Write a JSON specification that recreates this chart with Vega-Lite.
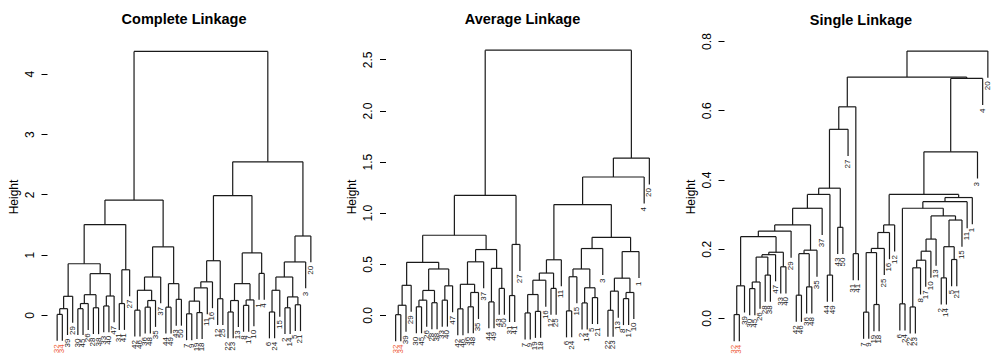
{
"$schema": "https://vega.github.io/schema/vega-lite/v6.json",
"background": "white",
"padding": {"left": 7, "top": 11, "right": 5, "bottom": 0},
"spacing": 64.5,
"bounds": "flush",
"config": {
  "view": {"stroke": null},
  "font": "Liberation Sans",
  "title": {"fontSize": 14.5, "fontWeight": "bold", "anchor": "middle", "color": "#000", "baseline": "alphabetic", "offset": 13, "frame": "group"},
  "axis": {"grid": false, "domain": false, "tickSize": 6, "tickColor": "#000", "tickWidth": 1, "labelFontSize": 12, "labelColor": "#000", "labelAngle": 270, "labelAlign": "center", "labelBaseline": "alphabetic", "labelPadding": 8, "titleFontSize": 12, "titleFontWeight": "normal", "titleColor": "#000", "titlePadding": 3, "labelFlush": false, "labelOverlap": false}
},
"datasets": {
  "cM": [
    {"xl":0,"xr":1,"h":0.01,"hl":-0.427,"hr":-0.427},
    {"xl":0.5,"xr":2,"h":0.105,"hl":0.01,"hr":-0.332},
    {"xl":1.25,"xr":3,"h":0.31,"hl":0.105,"hr":-0.127},
    {"xl":4,"xr":5,"h":0.105,"hl":-0.332,"hr":-0.332},
    {"xl":4.5,"xr":6,"h":0.19,"hl":0.105,"hr":-0.247},
    {"xl":7,"xr":8,"h":0.12,"hl":-0.317,"hr":-0.317},
    {"xl":5.25,"xr":7.5,"h":0.337,"hl":0.19,"hr":0.12},
    {"xl":9,"xr":10,"h":0.15,"hl":-0.287,"hr":-0.287},
    {"xl":9.5,"xr":11,"h":0.315,"hl":0.15,"hr":-0.122},
    {"xl":6.375,"xr":10.25,"h":0.686,"hl":0.337,"hr":0.315},
    {"xl":2.125,"xr":8.3125,"h":0.85,"hl":0.31,"hr":0.686},
    {"xl":12,"xr":13,"h":0.19,"hl":-0.247,"hr":-0.247},
    {"xl":12.5,"xr":14,"h":0.75,"hl":0.19,"hr":0.313},
    {"xl":5.21875,"xr":13.25,"h":1.5,"hl":0.85,"hr":0.75},
    {"xl":15,"xr":16,"h":0.08,"hl":-0.357,"hr":-0.357},
    {"xl":17,"xr":18,"h":0.13,"hl":-0.307,"hr":-0.307},
    {"xl":17.5,"xr":19,"h":0.24,"hl":0.13,"hr":-0.197},
    {"xl":15.5,"xr":18.25,"h":0.41,"hl":0.08,"hr":0.24},
    {"xl":16.875,"xr":20,"h":0.63,"hl":0.41,"hr":0.193},
    {"xl":21,"xr":22,"h":0.13,"hl":-0.307,"hr":-0.307},
    {"xl":23,"xr":24,"h":0.26,"hl":-0.177,"hr":-0.177},
    {"xl":21.5,"xr":23.5,"h":0.52,"hl":0.13,"hr":0.26},
    {"xl":18.4375,"xr":22.5,"h":1.13,"hl":0.63,"hr":0.52},
    {"xl":9.234375,"xr":20.46875,"h":1.905,"hl":1.5,"hr":1.13},
    {"xl":25,"xr":26,"h":0.02,"hl":-0.417,"hr":-0.417},
    {"xl":27,"xr":28,"h":0.04,"hl":-0.397,"hr":-0.397},
    {"xl":25.5,"xr":27.5,"h":0.23,"hl":0.02,"hr":0.04},
    {"xl":26.5,"xr":29,"h":0.45,"hl":0.23,"hr":0.013},
    {"xl":27.75,"xr":30,"h":0.55,"hl":0.45,"hr":0.113},
    {"xl":31,"xr":32,"h":0.27,"hl":-0.167,"hr":-0.167},
    {"xl":28.875,"xr":31.5,"h":0.9,"hl":0.55,"hr":0.27},
    {"xl":33,"xr":34,"h":0.05,"hl":-0.387,"hr":-0.387},
    {"xl":33.5,"xr":35,"h":0.24,"hl":0.05,"hr":-0.197},
    {"xl":36,"xr":37,"h":0.16,"hl":-0.277,"hr":-0.277},
    {"xl":36.5,"xr":38,"h":0.25,"hl":0.16,"hr":-0.187},
    {"xl":34.25,"xr":37.25,"h":0.52,"hl":0.24,"hr":0.25},
    {"xl":39,"xr":40,"h":0.69,"hl":0.253,"hr":0.253},
    {"xl":35.75,"xr":39.5,"h":1.03,"hl":0.52,"hr":0.69},
    {"xl":30.1875,"xr":37.625,"h":1.98,"hl":0.9,"hr":1.03},
    {"xl":41,"xr":42,"h":0.05,"hl":-0.387,"hr":-0.387},
    {"xl":41.5,"xr":43,"h":0.41,"hl":0.05,"hr":-0.027},
    {"xl":44,"xr":45,"h":0.12,"hl":-0.317,"hr":-0.317},
    {"xl":46,"xr":47,"h":0.17,"hl":-0.267,"hr":-0.267},
    {"xl":44.5,"xr":46.5,"h":0.3,"hl":0.12,"hr":0.17},
    {"xl":42.25,"xr":45.5,"h":0.63,"hl":0.41,"hr":0.3},
    {"xl":43.875,"xr":48,"h":0.88,"hl":0.63,"hr":0.443},
    {"xl":45.9375,"xr":49,"h":1.31,"hl":0.88,"hr":0.873},
    {"xl":33.90625,"xr":47.46875,"h":2.54,"hl":1.98,"hr":1.31},
    {"xl":14.8515625,"xr":40.6875,"h":4.37,"hl":1.905,"hr":2.54}
  ],
  "cL": [
    {"i":0,"t":"32","b":-0.427},{"i":1,"t":"34","b":-0.427},{"i":2,"t":"39","b":-0.332},{"i":3,"t":"29","b":-0.127},{"i":4,"t":"30","b":-0.332},
    {"i":5,"t":"45","b":-0.332},{"i":6,"t":"26","b":-0.247},{"i":7,"t":"28","b":-0.317},{"i":8,"t":"38","b":-0.317},{"i":9,"t":"33","b":-0.287},
    {"i":10,"t":"40","b":-0.287},{"i":11,"t":"47","b":-0.122},{"i":12,"t":"31","b":-0.247},{"i":13,"t":"41","b":-0.247},{"i":14,"t":"27","b":0.313},
    {"i":15,"t":"42","b":-0.357},{"i":16,"t":"46","b":-0.357},{"i":17,"t":"36","b":-0.307},{"i":18,"t":"48","b":-0.307},{"i":19,"t":"35","b":-0.197},
    {"i":20,"t":"37","b":0.193},{"i":21,"t":"44","b":-0.307},{"i":22,"t":"49","b":-0.307},{"i":23,"t":"43","b":-0.177},{"i":24,"t":"50","b":-0.177},
    {"i":25,"t":"7","b":-0.417},{"i":26,"t":"9","b":-0.417},{"i":27,"t":"19","b":-0.397},{"i":28,"t":"18","b":-0.397},{"i":29,"t":"11","b":0.013},
    {"i":30,"t":"16","b":0.113},{"i":31,"t":"12","b":-0.167},{"i":32,"t":"25","b":-0.167},{"i":33,"t":"22","b":-0.387},{"i":34,"t":"23","b":-0.387},
    {"i":35,"t":"13","b":-0.197},{"i":36,"t":"8","b":-0.277},{"i":37,"t":"17","b":-0.277},{"i":38,"t":"10","b":-0.187},{"i":39,"t":"1","b":0.253},
    {"i":40,"t":"4","b":0.253},{"i":41,"t":"6","b":-0.387},{"i":42,"t":"24","b":-0.387},{"i":43,"t":"15","b":-0.027},{"i":44,"t":"2","b":-0.317},
    {"i":45,"t":"14","b":-0.317},{"i":46,"t":"5","b":-0.267},{"i":47,"t":"21","b":-0.267},{"i":48,"t":"3","b":0.443},{"i":49,"t":"20","b":0.873}
  ],
  "aM": [
    {"xl":0,"xr":1,"h":0.003,"hl":-0.256,"hr":-0.256},
    {"xl":0.5,"xr":2,"h":0.095,"hl":0.003,"hr":-0.164},
    {"xl":1.25,"xr":3,"h":0.29,"hl":0.095,"hr":0.031},
    {"xl":4,"xr":5,"h":0.08,"hl":-0.179,"hr":-0.179},
    {"xl":4.5,"xr":6,"h":0.145,"hl":0.08,"hr":-0.114},
    {"xl":7,"xr":8,"h":0.12,"hl":-0.139,"hr":-0.139},
    {"xl":5.25,"xr":7.5,"h":0.24,"hl":0.145,"hr":0.12},
    {"xl":9,"xr":10,"h":0.145,"hl":-0.114,"hr":-0.114},
    {"xl":9.5,"xr":11,"h":0.285,"hl":0.145,"hr":0.026},
    {"xl":6.375,"xr":10.25,"h":0.45,"hl":0.24,"hr":0.285},
    {"xl":2.125,"xr":8.3125,"h":0.515,"hl":0.29,"hr":0.45},
    {"xl":12,"xr":13,"h":0.06,"hl":-0.199,"hr":-0.199},
    {"xl":14,"xr":15,"h":0.08,"hl":-0.179,"hr":-0.179},
    {"xl":14.5,"xr":16,"h":0.22,"hl":0.08,"hr":-0.039},
    {"xl":12.5,"xr":15.25,"h":0.3,"hl":0.06,"hr":0.22},
    {"xl":13.875,"xr":17,"h":0.52,"hl":0.3,"hr":0.261},
    {"xl":18,"xr":19,"h":0.128,"hl":-0.131,"hr":-0.131},
    {"xl":20,"xr":21,"h":0.26,"hl":0.001,"hr":0.001},
    {"xl":18.5,"xr":20.5,"h":0.456,"hl":0.128,"hr":0.26},
    {"xl":15.4375,"xr":19.5,"h":0.64,"hl":0.52,"hr":0.456},
    {"xl":5.21875,"xr":17.46875,"h":0.78,"hl":0.515,"hr":0.64},
    {"xl":22,"xr":23,"h":0.19,"hl":-0.069,"hr":-0.069},
    {"xl":22.5,"xr":24,"h":0.69,"hl":0.19,"hr":0.431},
    {"xl":11.34375,"xr":23.25,"h":1.17,"hl":0.78,"hr":0.69},
    {"xl":25,"xr":26,"h":0.02,"hl":-0.239,"hr":-0.239},
    {"xl":27,"xr":28,"h":0.035,"hl":-0.224,"hr":-0.224},
    {"xl":25.5,"xr":27.5,"h":0.2,"hl":0.02,"hr":0.035},
    {"xl":26.5,"xr":29,"h":0.34,"hl":0.2,"hr":0.081},
    {"xl":30,"xr":31,"h":0.26,"hl":0.001,"hr":0.001},
    {"xl":27.75,"xr":30.5,"h":0.41,"hl":0.34,"hr":0.26},
    {"xl":29.125,"xr":32,"h":0.54,"hl":0.41,"hr":0.281},
    {"xl":33,"xr":34,"h":0.04,"hl":-0.219,"hr":-0.219},
    {"xl":33.5,"xr":35,"h":0.374,"hl":0.04,"hr":0.115},
    {"xl":36,"xr":37,"h":0.118,"hl":-0.141,"hr":-0.141},
    {"xl":38,"xr":39,"h":0.17,"hl":-0.089,"hr":-0.089},
    {"xl":36.5,"xr":38.5,"h":0.266,"hl":0.118,"hr":0.17},
    {"xl":34.25,"xr":37.5,"h":0.45,"hl":0.374,"hr":0.266},
    {"xl":35.875,"xr":40,"h":0.65,"hl":0.45,"hr":0.391},
    {"xl":41,"xr":42,"h":0.046,"hl":-0.213,"hr":-0.213},
    {"xl":41.5,"xr":43,"h":0.233,"hl":0.046,"hr":-0.026},
    {"xl":44,"xr":45,"h":0.16,"hl":-0.099,"hr":-0.099},
    {"xl":44.5,"xr":46,"h":0.22,"hl":0.16,"hr":-0.039},
    {"xl":42.25,"xr":45.25,"h":0.36,"hl":0.233,"hr":0.22},
    {"xl":43.75,"xr":47,"h":0.62,"hl":0.36,"hr":0.361},
    {"xl":37.9375,"xr":45.375,"h":0.76,"hl":0.65,"hr":0.62},
    {"xl":30.5625,"xr":41.65625,"h":1.08,"hl":0.54,"hr":0.76},
    {"xl":36.109375,"xr":48,"h":1.35,"hl":1.08,"hr":1.091},
    {"xl":42.0546875,"xr":49,"h":1.535,"hl":1.35,"hr":1.276},
    {"xl":17.296875,"xr":45.52734375,"h":2.59,"hl":1.17,"hr":1.535}
  ],
  "aL": [
    {"i":0,"t":"32","b":-0.256},{"i":1,"t":"34","b":-0.256},{"i":2,"t":"39","b":-0.164},{"i":3,"t":"29","b":0.031},{"i":4,"t":"30","b":-0.179},
    {"i":5,"t":"45","b":-0.179},{"i":6,"t":"26","b":-0.114},{"i":7,"t":"28","b":-0.139},{"i":8,"t":"38","b":-0.139},{"i":9,"t":"33","b":-0.114},
    {"i":10,"t":"40","b":-0.114},{"i":11,"t":"47","b":0.026},{"i":12,"t":"42","b":-0.199},{"i":13,"t":"46","b":-0.199},{"i":14,"t":"36","b":-0.179},
    {"i":15,"t":"48","b":-0.179},{"i":16,"t":"35","b":-0.039},{"i":17,"t":"37","b":0.261},{"i":18,"t":"44","b":-0.131},{"i":19,"t":"49","b":-0.131},
    {"i":20,"t":"43","b":0.001},{"i":21,"t":"50","b":0.001},{"i":22,"t":"31","b":-0.069},{"i":23,"t":"41","b":-0.069},{"i":24,"t":"27","b":0.431},
    {"i":25,"t":"7","b":-0.239},{"i":26,"t":"9","b":-0.239},{"i":27,"t":"19","b":-0.224},{"i":28,"t":"18","b":-0.224},{"i":29,"t":"16","b":0.081},
    {"i":30,"t":"12","b":0.001},{"i":31,"t":"25","b":0.001},{"i":32,"t":"11","b":0.281},{"i":33,"t":"6","b":-0.219},{"i":34,"t":"24","b":-0.219},
    {"i":35,"t":"15","b":0.115},{"i":36,"t":"2","b":-0.141},{"i":37,"t":"14","b":-0.141},{"i":38,"t":"5","b":-0.089},{"i":39,"t":"21","b":-0.089},
    {"i":40,"t":"3","b":0.391},{"i":41,"t":"22","b":-0.213},{"i":42,"t":"23","b":-0.213},{"i":43,"t":"13","b":-0.026},{"i":44,"t":"8","b":-0.099},
    {"i":45,"t":"17","b":-0.099},{"i":46,"t":"10","b":-0.039},{"i":47,"t":"1","b":0.361},{"i":48,"t":"4","b":1.091},{"i":49,"t":"20","b":1.276}
  ],
  "sM": [
    {"xl":0,"xr":1,"h":0.01,"hl":-0.067,"hr":-0.067},
    {"xl":0.5,"xr":2,"h":0.093,"hl":0.01,"hr":0.016},
    {"xl":3,"xr":4,"h":0.085,"hl":0.008,"hr":0.008},
    {"xl":3.5,"xr":5,"h":0.104,"hl":0.085,"hr":0.027},
    {"xl":6,"xr":7,"h":0.124,"hl":0.047,"hr":0.047},
    {"xl":4.25,"xr":6.5,"h":0.176,"hl":0.104,"hr":0.124},
    {"xl":5.375,"xr":8,"h":0.183,"hl":0.176,"hr":0.106},
    {"xl":9,"xr":10,"h":0.148,"hl":0.071,"hr":0.071},
    {"xl":6.6875,"xr":9.5,"h":0.19,"hl":0.183,"hr":0.148},
    {"xl":1.25,"xr":8.09375,"h":0.235,"hl":0.093,"hr":0.19},
    {"xl":4.671875,"xr":11,"h":0.251,"hl":0.235,"hr":0.174},
    {"xl":12,"xr":13,"h":0.066,"hl":-0.011,"hr":-0.011},
    {"xl":14,"xr":15,"h":0.09,"hl":0.013,"hr":0.013},
    {"xl":12.5,"xr":14.5,"h":0.186,"hl":0.066,"hr":0.09},
    {"xl":13.5,"xr":16,"h":0.196,"hl":0.186,"hr":0.119},
    {"xl":7.8359375,"xr":14.75,"h":0.269,"hl":0.251,"hr":0.196},
    {"xl":11.293,"xr":17,"h":0.317,"hl":0.269,"hr":0.24},
    {"xl":18,"xr":19,"h":0.124,"hl":0.047,"hr":0.047},
    {"xl":14.1465,"xr":18.5,"h":0.357,"hl":0.317,"hr":0.124},
    {"xl":20,"xr":21,"h":0.262,"hl":0.185,"hr":0.185},
    {"xl":16.3232,"xr":20.5,"h":0.375,"hl":0.357,"hr":0.262},
    {"xl":18.4116,"xr":22,"h":0.545,"hl":0.375,"hr":0.468},
    {"xl":23,"xr":24,"h":0.186,"hl":0.109,"hr":0.109},
    {"xl":20.2058,"xr":23.5,"h":0.61,"hl":0.545,"hr":0.186},
    {"xl":25,"xr":26,"h":0.017,"hl":-0.06,"hr":-0.06},
    {"xl":27,"xr":28,"h":0.039,"hl":-0.038,"hr":-0.038},
    {"xl":25.5,"xr":27.5,"h":0.189,"hl":0.017,"hr":0.039},
    {"xl":26.5,"xr":29,"h":0.201,"hl":0.189,"hr":0.124},
    {"xl":27.75,"xr":30,"h":0.247,"hl":0.201,"hr":0.17},
    {"xl":28.875,"xr":31,"h":0.269,"hl":0.247,"hr":0.192},
    {"xl":32,"xr":33,"h":0.041,"hl":-0.036,"hr":-0.036},
    {"xl":34,"xr":35,"h":0.032,"hl":-0.045,"hr":-0.045},
    {"xl":34.5,"xr":36,"h":0.145,"hl":0.032,"hr":0.068},
    {"xl":35.25,"xr":37,"h":0.167,"hl":0.145,"hr":0.09},
    {"xl":36.125,"xr":38,"h":0.193,"hl":0.167,"hr":0.116},
    {"xl":37.0625,"xr":39,"h":0.228,"hl":0.193,"hr":0.151},
    {"xl":40,"xr":41,"h":0.116,"hl":0.039,"hr":0.039},
    {"xl":42,"xr":43,"h":0.169,"hl":0.092,"hr":0.092},
    {"xl":40.5,"xr":42.5,"h":0.206,"hl":0.116,"hr":0.169},
    {"xl":41.5,"xr":44,"h":0.283,"hl":0.206,"hr":0.206},
    {"xl":38.03125,"xr":42.75,"h":0.295,"hl":0.228,"hr":0.283},
    {"xl":32.5,"xr":40.390625,"h":0.317,"hl":0.041,"hr":0.295},
    {"xl":36.4453,"xr":45,"h":0.336,"hl":0.317,"hr":0.259},
    {"xl":40.7227,"xr":46,"h":0.348,"hl":0.336,"hr":0.271},
    {"xl":29.9375,"xr":43.3613,"h":0.357,"hl":0.269,"hr":0.348},
    {"xl":36.6494,"xr":47,"h":0.48,"hl":0.357,"hr":0.403},
    {"xl":41.8247,"xr":48,"h":0.692,"hl":0.48,"hr":0.615},
    {"xl":21.8529,"xr":44.9124,"h":0.696,"hl":0.61,"hr":0.692},
    {"xl":33.3826,"xr":49,"h":0.771,"hl":0.696,"hr":0.694}
  ],
  "sL": [
    {"i":0,"t":"32","b":-0.067},{"i":1,"t":"34","b":-0.067},{"i":2,"t":"39","b":0.016},{"i":3,"t":"30","b":0.008},{"i":4,"t":"45","b":0.008},
    {"i":5,"t":"26","b":0.027},{"i":6,"t":"28","b":0.047},{"i":7,"t":"38","b":0.047},{"i":8,"t":"47","b":0.106},{"i":9,"t":"33","b":0.071},
    {"i":10,"t":"40","b":0.071},{"i":11,"t":"29","b":0.174},{"i":12,"t":"42","b":-0.011},{"i":13,"t":"46","b":-0.011},{"i":14,"t":"36","b":0.013},
    {"i":15,"t":"48","b":0.013},{"i":16,"t":"35","b":0.119},{"i":17,"t":"37","b":0.24},{"i":18,"t":"44","b":0.047},{"i":19,"t":"49","b":0.047},
    {"i":20,"t":"43","b":0.185},{"i":21,"t":"50","b":0.185},{"i":22,"t":"27","b":0.468},{"i":23,"t":"31","b":0.109},{"i":24,"t":"41","b":0.109},
    {"i":25,"t":"7","b":-0.06},{"i":26,"t":"9","b":-0.06},{"i":27,"t":"19","b":-0.038},{"i":28,"t":"18","b":-0.038},{"i":29,"t":"25","b":0.124},
    {"i":30,"t":"16","b":0.17},{"i":31,"t":"12","b":0.192},{"i":32,"t":"6","b":-0.036},{"i":33,"t":"24","b":-0.036},{"i":34,"t":"22","b":-0.045},
    {"i":35,"t":"23","b":-0.045},{"i":36,"t":"8","b":0.068},{"i":37,"t":"17","b":0.09},{"i":38,"t":"10","b":0.116},{"i":39,"t":"13","b":0.151},
    {"i":40,"t":"2","b":0.039},{"i":41,"t":"14","b":0.039},{"i":42,"t":"5","b":0.092},{"i":43,"t":"21","b":0.092},{"i":44,"t":"15","b":0.206},
    {"i":45,"t":"11","b":0.259},{"i":46,"t":"1","b":0.271},{"i":47,"t":"3","b":0.403},{"i":48,"t":"4","b":0.615},{"i":49,"t":"20","b":0.694}
  ]
},
"hconcat": [
  {
    "title": "Complete Linkage",
    "width": 274, "height": 313,
    "layer": [
      {"data": {"name": "cM"}, "mark": {"type": "rule", "color": "#1a1a1a", "strokeWidth": 1.2},
       "encoding": {
         "x": {"field": "xl", "type": "quantitative", "scale": {"domain": [-1.96, 50.96], "nice": false, "zero": false}, "axis": null},
         "x2": {"field": "xr"},
         "y": {"field": "h", "type": "quantitative", "scale": {"domain": [-0.63, 4.56], "nice": false, "zero": false}, "axis": {"title": "Height", "values": [0, 1, 2, 3, 4], "format": "d"}}}},
      {"data": {"name": "cM"}, "mark": {"type": "rule", "color": "#1a1a1a", "strokeWidth": 1.2},
       "encoding": {"x": {"field": "xl", "type": "quantitative"}, "y": {"field": "h", "type": "quantitative"}, "y2": {"field": "hl"}}},
      {"data": {"name": "cM"}, "mark": {"type": "rule", "color": "#1a1a1a", "strokeWidth": 1.2},
       "encoding": {"x": {"field": "xr", "type": "quantitative"}, "y": {"field": "h", "type": "quantitative"}, "y2": {"field": "hr"}}},
      {"data": {"name": "cL"}, "mark": {"type": "text", "angle": 270, "align": "right", "baseline": "middle", "dx": -3.5, "fontSize": 8},
       "encoding": {"x": {"field": "i", "type": "quantitative"}, "y": {"field": "b", "type": "quantitative"}, "text": {"field": "t"},
         "color": {"condition": {"test": "datum.t === '32' || datum.t === '34'", "value": "#EE5C3A"}, "value": "#222222"}}},
      {"mark": {"type": "rule", "color": "#000", "strokeWidth": 1}, "encoding": {"x": {"datum": -1.96}, "y": {"datum": 0}, "y2": {"datum": 4.56}}}
    ]
  },
  {
    "title": "Average Linkage",
    "width": 274, "height": 313,
    "layer": [
      {"data": {"name": "aM"}, "mark": {"type": "rule", "color": "#1a1a1a", "strokeWidth": 1.2},
       "encoding": {
         "x": {"field": "xl", "type": "quantitative", "scale": {"domain": [-1.96, 50.96], "nice": false, "zero": false}, "axis": null},
         "x2": {"field": "xr"},
         "y": {"field": "h", "type": "quantitative", "scale": {"domain": [-0.372, 2.69], "nice": false, "zero": false}, "axis": {"title": "Height", "values": [0, 0.5, 1, 1.5, 2, 2.5], "format": ".1f"}}}},
      {"data": {"name": "aM"}, "mark": {"type": "rule", "color": "#1a1a1a", "strokeWidth": 1.2},
       "encoding": {"x": {"field": "xl", "type": "quantitative"}, "y": {"field": "h", "type": "quantitative"}, "y2": {"field": "hl"}}},
      {"data": {"name": "aM"}, "mark": {"type": "rule", "color": "#1a1a1a", "strokeWidth": 1.2},
       "encoding": {"x": {"field": "xr", "type": "quantitative"}, "y": {"field": "h", "type": "quantitative"}, "y2": {"field": "hr"}}},
      {"data": {"name": "aL"}, "mark": {"type": "text", "angle": 270, "align": "right", "baseline": "middle", "dx": -3.5, "fontSize": 8},
       "encoding": {"x": {"field": "i", "type": "quantitative"}, "y": {"field": "b", "type": "quantitative"}, "text": {"field": "t"},
         "color": {"condition": {"test": "datum.t === '32' || datum.t === '34'", "value": "#EE5C3A"}, "value": "#222222"}}},
      {"mark": {"type": "rule", "color": "#000", "strokeWidth": 1}, "encoding": {"x": {"datum": -1.96}, "y": {"datum": 0}, "y2": {"datum": 2.69}}}
    ]
  },
  {
    "title": {"text": "Single Linkage", "dy": 8.5},
    "width": 274, "height": 313,
    "layer": [
      {"data": {"name": "sM"}, "mark": {"type": "rule", "color": "#1a1a1a", "strokeWidth": 1.2},
       "encoding": {
         "x": {"field": "xl", "type": "quantitative", "scale": {"domain": [-1.96, 50.96], "nice": false, "zero": false}, "axis": null},
         "x2": {"field": "xr"},
         "y": {"field": "h", "type": "quantitative", "scale": {"domain": [-0.101, 0.803], "nice": false, "zero": false}, "axis": {"title": "Height", "values": [0, 0.2, 0.4, 0.6, 0.8], "format": ".1f"}}}},
      {"data": {"name": "sM"}, "mark": {"type": "rule", "color": "#1a1a1a", "strokeWidth": 1.2},
       "encoding": {"x": {"field": "xl", "type": "quantitative"}, "y": {"field": "h", "type": "quantitative"}, "y2": {"field": "hl"}}},
      {"data": {"name": "sM"}, "mark": {"type": "rule", "color": "#1a1a1a", "strokeWidth": 1.2},
       "encoding": {"x": {"field": "xr", "type": "quantitative"}, "y": {"field": "h", "type": "quantitative"}, "y2": {"field": "hr"}}},
      {"data": {"name": "sL"}, "mark": {"type": "text", "angle": 270, "align": "right", "baseline": "middle", "dx": -3.5, "fontSize": 8},
       "encoding": {"x": {"field": "i", "type": "quantitative"}, "y": {"field": "b", "type": "quantitative"}, "text": {"field": "t"},
         "color": {"condition": {"test": "datum.t === '32' || datum.t === '34'", "value": "#EE5C3A"}, "value": "#222222"}}},
      {"mark": {"type": "rule", "color": "#000", "strokeWidth": 1}, "encoding": {"x": {"datum": -1.96}, "y": {"datum": 0}, "y2": {"datum": 0.8}}}
    ]
  }
]
}
